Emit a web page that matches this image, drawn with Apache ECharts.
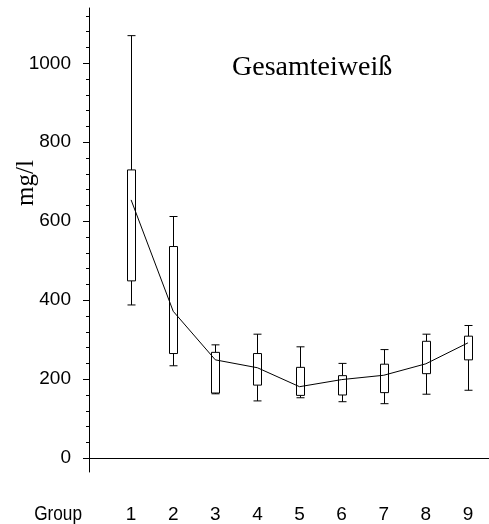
<!DOCTYPE html>
<html><head><meta charset="utf-8">
<script src="https://cdn.jsdelivr.net/npm/echarts@6/dist/echarts.min.js"></script>
<style>html,body{margin:0;padding:0;background:#fff}#c{width:489px;height:524px}</style>
</head><body><div id="c"></div>
<script>
const groups = [1, 2, 3, 4, 5, 6, 7, 8, 9];
const whiskerHigh = [1070, 612, 287, 314, 282, 240, 275, 314, 336];
const boxHigh = [730, 536, 268, 265, 230, 209, 238, 296, 309];
const boxLow = [449, 265, 165, 185, 159, 160, 166, 214, 249];
const whiskerLow = [388, 234, 163, 145, 153, 143, 138, 162, 172];
const means = [654, 372, 249, 229, 181, 199, 210, 239, 292];
const majorTicks = [0, 200, 400, 600, 800, 1000];
const minorTicks = [40, 80, 120, 160, 240, 280, 320, 360, 440, 480, 520, 560, 640, 680, 720, 760, 840, 880, 920, 960, 1040, 1080, 1120];
const titleText = 'Gesamteiweiß';
const yName = 'mg/l';
const xName = 'Group';

const SANS = '"Liberation Sans",Arial,Helvetica,sans-serif';
const SERIF = '"Liberation Serif","Times New Roman",serif';

const boxData = groups.map((g, i) => [g, whiskerLow[i], boxLow[i], boxHigh[i], whiskerHigh[i]]);
const meanData = groups.map((g, i) => [g, means[i]]);

const chart = echarts.init(document.getElementById('c'), null, {renderer: 'canvas'});
chart.setOption({
  animation: false,
  backgroundColor: '#fff',
  grid: {left: 89, right: -3, top: 8, bottom: 52},
  xAxis: {
    type: 'value', min: 0, max: 9.5,
    axisLine: {show: true, lineStyle: {color: '#000', width: 1}},
    axisTick: {show: false},
    splitLine: {show: false},
    axisLabel: {customValues: groups, margin: 33, fontFamily: SANS, fontSize: 19, color: '#000', formatter: v => String(v)}
  },
  yAxis: [{
    type: 'value', min: -35, max: 1140, position: 'left',
    axisLine: {show: true, lineStyle: {color: '#000', width: 1}},
    axisTick: {show: true, length: 6, customValues: majorTicks, lineStyle: {color: '#000'}},
    axisLabel: {customValues: majorTicks, margin: 18, fontFamily: SANS, fontSize: 19, color: '#000', padding: [5, 0, 0, 0], formatter: v => String(v)},
    splitLine: {show: false}
  }, {
    type: 'value', min: -35, max: 1140, position: 'left',
    axisLine: {show: false},
    axisTick: {show: true, length: 3, customValues: minorTicks, lineStyle: {color: '#000'}},
    axisLabel: {show: false},
    splitLine: {show: false}
  }],
  series: [{
    type: 'custom',
    data: boxData,
    encode: {x: 0, y: [1, 2, 3, 4]},
    z: 2,
    renderItem: function (params, api) {
      const x = api.value(0);
      const pWL = api.coord([x, api.value(1)]);
      const pBL = api.coord([x, api.value(2)]);
      const pBH = api.coord([x, api.value(3)]);
      const pWH = api.coord([x, api.value(4)]);
      const hw = 4;
      const cx = Math.round(pWL[0]) + 0.5;
      const st = {stroke: '#000', lineWidth: 1, fill: null};
      return {type: 'group', children: [
        {type: 'line', shape: {x1: cx, y1: pWH[1], x2: cx, y2: pBH[1]}, style: st},
        {type: 'line', shape: {x1: cx, y1: pBL[1], x2: cx, y2: pWL[1]}, style: st},
        {type: 'line', shape: {x1: cx - hw, y1: pWH[1], x2: cx + hw, y2: pWH[1]}, style: st},
        {type: 'line', shape: {x1: cx - hw, y1: pWL[1], x2: cx + hw, y2: pWL[1]}, style: st},
        {type: 'rect', shape: {x: cx - hw, y: pBH[1], width: 2 * hw, height: pBL[1] - pBH[1]}, style: {stroke: '#000', fill: '#fff', lineWidth: 1}}
      ]};
    }
  }, {
    type: 'line',
    data: meanData,
    z: 5,
    showSymbol: false,
    symbol: 'none',
    lineStyle: {color: '#000', width: 1},
    itemStyle: {color: '#000'}
  }],
  graphic: [
    {type: 'text', left: 232, top: 54, style: {text: titleText, font: '28px ' + SERIF, fill: '#000'}},
    {type: 'text', x: 26, y: 183, rotation: Math.PI / 2, style: {text: yName, font: '25px ' + SERIF, fill: '#000', align: 'center', verticalAlign: 'middle'}},
    {type: 'text', x: 82, y: 514, scaleX: 0.82, style: {text: xName, font: '21px ' + SANS, fill: '#000', align: 'right', verticalAlign: 'middle'}}
  ]
});
</script>
</body></html>
